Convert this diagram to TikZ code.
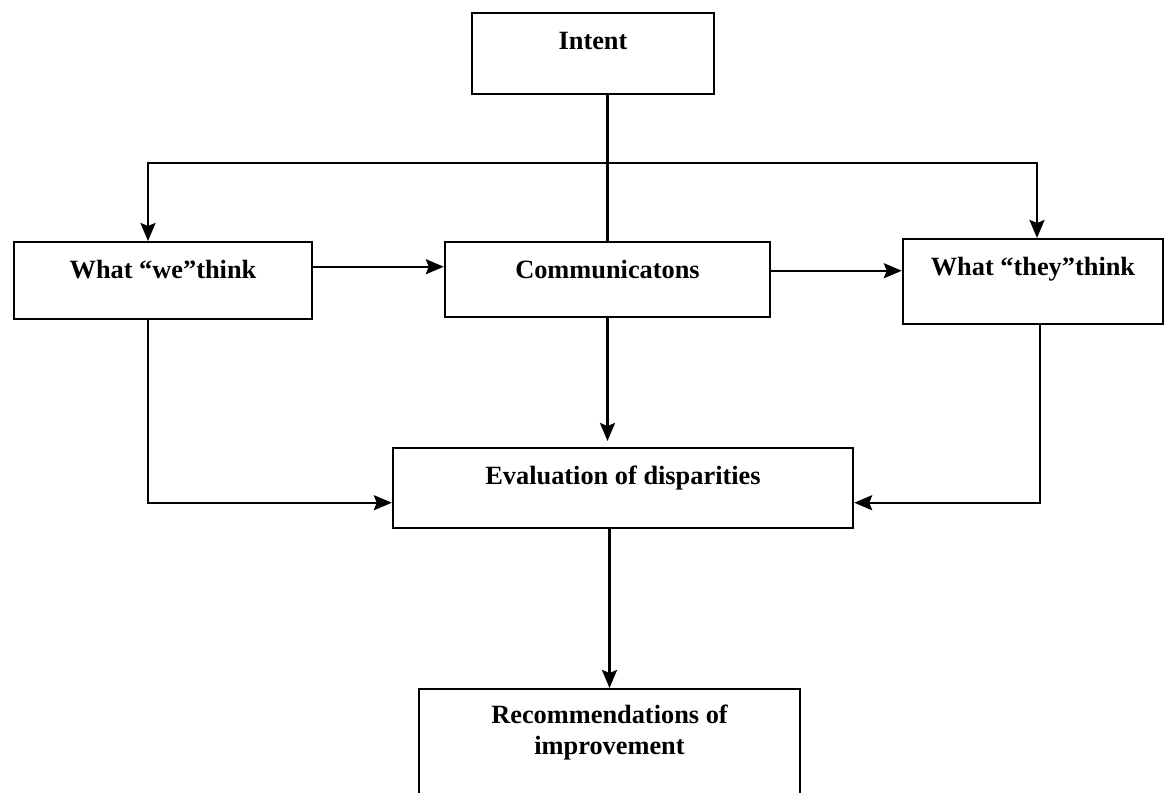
\documentclass[tikz,border=0pt]{standalone}
\usepackage{fontspec}
\setmainfont{Liberation Serif}
\usetikzlibrary{arrows.meta,positioning,calc}
\tikzset{
  blk/.style={draw=black, line width=1.4pt, inner sep=0pt, align=center,
              font=\fontsize{15}{17.5}\selectfont\bfseries, anchor=north, text height=0.72cm},
  arr/.style={-{Stealth[length=3.6mm,width=3mm,inset=0.6mm]}, line width=1.4pt},
  lin/.style={line width=1.4pt},
}

\begin{document}
\begin{tikzpicture}[x=0.02cm, y=-0.02cm]
    \clip (0,0) rectangle (1166,792);
    \useasboundingbox (0,0) rectangle (1166,792);
    \fill[white] (0,0) rectangle (1166,792);
    % boxes (pixel grid)
    \node[blk, minimum width=4.84cm, text depth=0.9cm]  (intent) at (593,12)  {Intent};
    \node[blk, minimum width=5.96cm, text depth=0.82cm] (we)     at (163,241) {What “we”think};
    \node[blk, minimum width=6.5cm,  text depth=0.78cm] (comm)   at (607.5,241) {Communicatons};
    \node[blk, minimum width=5.2cm,  text depth=0.98cm] (they)   at (1033,238) {What “they”think};
    \node[blk, minimum width=9.2cm,  text depth=0.88cm] (eval)   at (623,447) {Evaluation of disparities};
    \node[blk, minimum width=7.62cm, text height=1.3cm, text depth=1.6cm] (rec) at (609.5,688) {Recommendations of\\improvement};
    % connectors
    \coordinate (split) at (607,163);
    \draw[lin] (intent.south -| comm.north) -- (comm.north);
    \draw[arr] (split) -| ([xshift=-0.3cm]we.north);
    \draw[arr] (split) -| ([xshift=0.08cm]they.north);
    \draw[arr] ([yshift=0.28cm]we.east) -- ([yshift=0.28cm]we.east -| comm.west);
    \draw[arr] ([yshift=0.18cm]comm.east) -- ([yshift=0.18cm]comm.east -| they.west);
    \draw[arr] (comm.south) -- ([yshift=0.12cm]comm.south |- eval.north);
    \draw[arr] ([xshift=-0.3cm]we.south) |- ([yshift=-0.29cm]eval.west);
    \draw[arr] ([xshift=0.14cm]they.south) |- ([yshift=-0.29cm]eval.east);
    \draw[arr] (eval.south -| rec.north) -- (rec.north);
\end{tikzpicture}
\end{document}
